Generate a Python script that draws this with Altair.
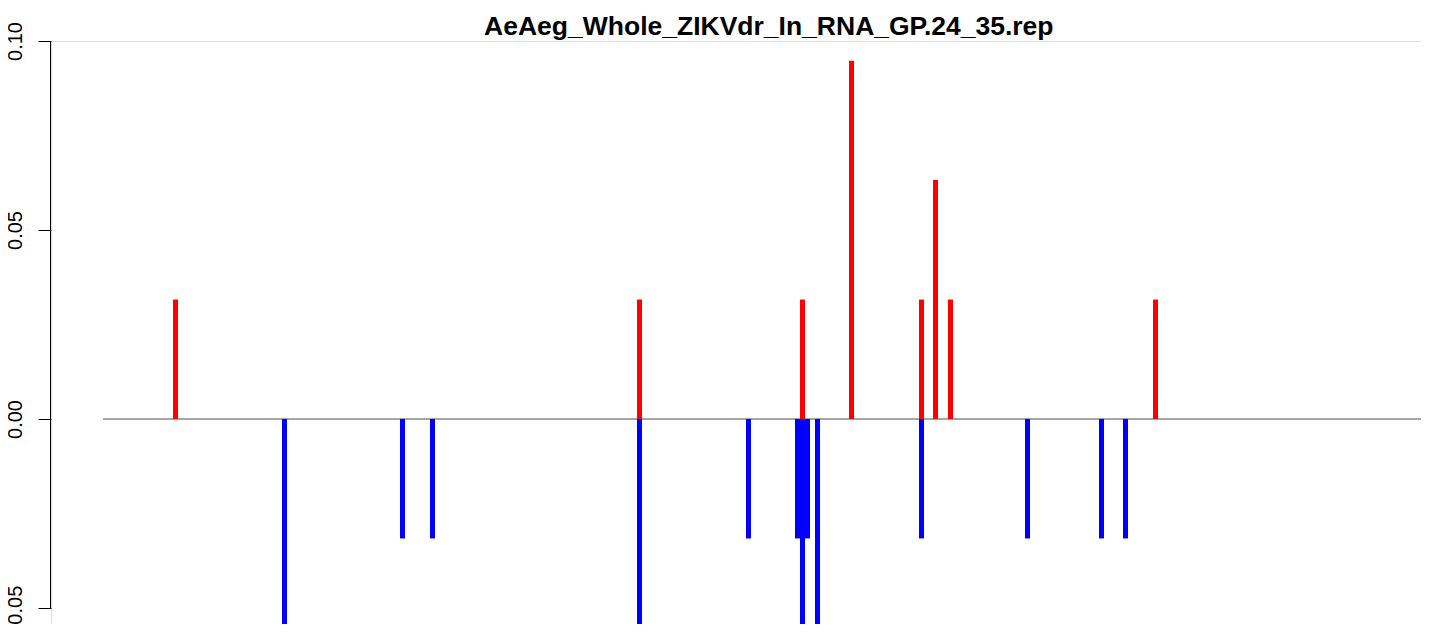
import altair as alt
import pandas as pd

# Data (positions along the sequence, normalised counts)
pos_positions = [24.9, 117.7, 150.3, 160.1, 174.1, 176.9, 179.9, 220.9]
pos_values = [0.0316, 0.0316, 0.0316, 0.0948, 0.0316, 0.0632, 0.0316, 0.0316]
neg_positions = [46.7, 70.3, 76.3, 117.7, 139.5, 149.3, 150.3, 151.3, 153.3,
                 174.1, 195.3, 210.1, 214.9]
neg_values = [-0.0632, -0.0316, -0.0316, -0.0632, -0.0316, -0.0316, -0.0632,
              -0.0316, -0.0632, -0.0316, -0.0316, -0.0316, -0.0316]
y_ticks = [-0.05, 0.0, 0.05, 0.10]
title_text = "AeAeg_Whole_ZIKVdr_In_RNA_GP.24_35.rep"
line_start = 10.4
x_domain = [0, 274]
y_domain = [-0.05423, 0.10]

df = pd.DataFrame({
    "pos": pos_positions + neg_positions,
    "v": pos_values + neg_values,
})

W, H = 1370, 583
FONT = "Liberation Sans"

xs = alt.Scale(domain=x_domain, nice=False, zero=False)
ys = alt.Scale(domain=y_domain, nice=False, zero=False)

bars = alt.Chart(df).transform_calculate(
    x0="datum.pos - 0.5", x1="datum.pos + 0.5",
    sign="datum.v > 0 ? 'pos' : 'neg'"
).mark_rect(clip=True).encode(
    x=alt.X("x0:Q", scale=xs, axis=None),
    x2="x1:Q",
    y=alt.Y("v:Q", scale=ys, axis=alt.Axis(
        values=y_ticks, title=None, grid=False, domain=False,
        tickSize=13, tickColor="black", tickWidth=1,
        labelAngle=270, labelAlign="center", labelBaseline="alphabetic",
        labelPadding=17, labelFontSize=20, labelFont=FONT, labelColor="black",
        labelExpr="datum.value < 0 ? '-' + format(-datum.value, '.2f') : format(datum.value, '.2f')",
    )),
    y2=alt.datum(0),
    color=alt.Color("sign:N", scale=alt.Scale(domain=["pos", "neg"],
                                              range=["#FF0000", "#0000FF"]),
                    legend=None),
)

zero_line = alt.Chart(pd.DataFrame({"a": [line_start], "b": [x_domain[1]], "z": [0.0]})).mark_rule(
    color="#4d4d4d", strokeWidth=1
).encode(
    x=alt.X("a:Q", scale=xs, axis=None), x2="b:Q",
    y=alt.Y("z:Q", scale=ys),
)

axis_line = alt.Chart(pd.DataFrame({"lo": [y_ticks[0]], "hi": [y_ticks[-1]]})).mark_rule(
    color="black", strokeWidth=1
).encode(
    x=alt.value(-0.5),
    y=alt.Y("lo:Q", scale=ys), y2="hi:Q",
)

chart = alt.layer(zero_line, bars, axis_line).properties(
    width=W, height=H,
    autosize=alt.AutoSizeParams(type="none"),
    padding={"left": 43, "top": 33, "right": 0, "bottom": 0},
    title=alt.TitleParams(
        text=title_text, font=FONT, fontSize=26.5, fontWeight="bold",
        color="black", anchor="middle", frame="group", offset=0,
        baseline="alphabetic", dx=32.8, dy=40,
    ),
).configure_view(stroke="transparent").configure(background="white")

chart.save("out.html", embed_options={"renderer": "svg", "actions": False})
